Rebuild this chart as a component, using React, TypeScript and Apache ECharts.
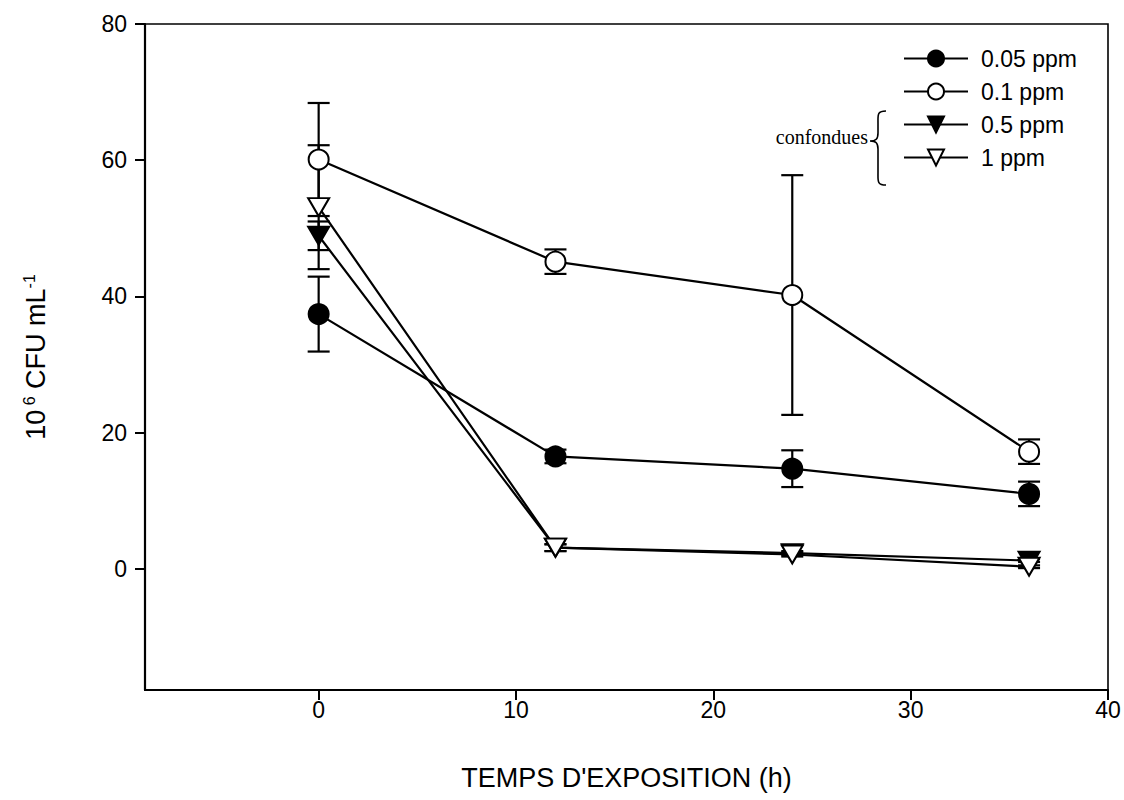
import React, { useEffect, useRef } from "react";
import * as echarts from "echarts";

const times = [0, 12, 24, 36];
const xTicks = [0, 10, 20, 30, 40];
const yTicks = [0, 20, 40, 60, 80];

const seriesNames = ["0.05 ppm", "0.1 ppm", "0.5 ppm", "1 ppm"];
const ppm005 = [37.4, 16.5, 14.7, 11.0];
const ppm005Err = [5.5, 1.0, 2.7, 1.8];
const ppm01 = [60.1, 45.1, 40.2, 17.2];
const ppm01Err = [8.3, 1.8, 17.6, 1.8];
const ppm05 = [48.9, 3.1, 2.3, 1.2];
const ppm05Err = [2.1, 0.5, 0.3, 0.2];
const ppm1 = [53.1, 3.1, 2.1, 0.3];
const ppm1Err = [9.1, 0.5, 0.3, 0.2];

const TRI_DOWN = "path://M0,0 L20,0 L10,17 Z";

const FONT = "Liberation Sans, Arial, sans-serif";

export default function App() {
  const ref = useRef<HTMLDivElement>(null);

  useEffect(() => {
    if (!ref.current) return;
    echarts.graphic.registerShape(
      "brace",
      echarts.graphic.extendPath(
        "M16,0 C7,0 8,4 8,12 L8,22 C8,28 6,30 0,30 C6,30 8,32 8,38 L8,62 C8,70 7,74 16,74",
        {}
      )
    );
    const chart = echarts.init(ref.current, null, { renderer: "svg" });

    const values = [ppm005, ppm01, ppm05, ppm1];
    const errs = [ppm005Err, ppm01Err, ppm05Err, ppm1Err];
    const symbols = ["circle", "circle", TRI_DOWN, TRI_DOWN];
    const fills = ["#000", "#fff", "#000", "#fff"];
    const sizes: any[] = [20, 20, [21, 18], [21, 18]];

    const errData: any[] = [];
    values.forEach((vals, s) => {
      vals.forEach((v, i) => {
        errData.push([times[i], v - errs[s][i], v + errs[s][i]]);
      });
    });

    const errSeries = {
      type: "custom",
      z: 1,
      silent: true,
      renderItem: (params: any, api: any) => {
        const x = api.value(0);
        const lo = api.coord([x, api.value(1)]);
        const hi = api.coord([x, api.value(2)]);
        const hw = 11;
        const st = { stroke: "#000", lineWidth: 2.2 };
        return {
          type: "group",
          children: [
            { type: "line", shape: { x1: lo[0], y1: lo[1], x2: hi[0], y2: hi[1] }, style: st },
            { type: "line", shape: { x1: lo[0] - hw, y1: lo[1], x2: lo[0] + hw, y2: lo[1] }, style: st },
            { type: "line", shape: { x1: hi[0] - hw, y1: hi[1], x2: hi[0] + hw, y2: hi[1] }, style: st },
          ],
        };
      },
      encode: { x: 0, y: [1, 2] },
      data: errData,
    };

    const lineSeries = values.map((vals, s) => ({
      name: seriesNames[s],
      type: "line",
      z: 3,
      data: vals.map((v, i) => [times[i], v]),
      symbol: symbols[s],
      symbolSize: sizes[s],
      showSymbol: true,
      lineStyle: { color: "#000", width: 2.2 },
      itemStyle: { color: fills[s], borderColor: "#000", borderWidth: 2 },
      emphasis: { disabled: true },
    }));

    chart.setOption({
      animation: false,
      backgroundColor: "#fff",
      grid: {
        left: 145,
        right: 16,
        top: 24,
        bottom: 110,
        show: true,
        borderColor: "#000",
        borderWidth: 1.6,
        backgroundColor: "transparent",
      },
      legend: {
        orient: "vertical",
        left: 898,
        top: 42,
        itemWidth: 64,
        itemHeight: 20,
        itemGap: 10,
        data: seriesNames,
        textStyle: { fontFamily: FONT, fontSize: 23, lineHeight: 20, color: "#000", padding: [0, 0, 0, 8] },
        selectedMode: false,
      },
      xAxis: {
        type: "value",
        min: -8.8,
        max: 40,
        name: "TEMPS D'EXPOSITION (h)",
        nameLocation: "middle",
        nameGap: 74,
        nameTextStyle: { fontFamily: FONT, fontSize: 27, color: "#000" },
        axisLine: { show: true, onZero: false, lineStyle: { color: "#000", width: 2.2 } },
        axisTick: { show: true, length: 10, lineStyle: { color: "#000", width: 2 }, customValues: xTicks },
        axisLabel: {
          customValues: xTicks,
          fontFamily: FONT,
          fontSize: 23,
          color: "#000",
          margin: 8,
        },
        splitLine: { show: false },
      },
      yAxis: {
        type: "value",
        min: -17.8,
        max: 80,
        name: "{a|10}{s| 6}{a| CFU mL}{s|-1}",
        nameLocation: "middle",
        nameGap: 94,
        nameRotate: 90,
        nameTextStyle: {
          fontFamily: FONT,
          color: "#000",
          rich: {
            a: { fontFamily: FONT, fontSize: 27, color: "#000", lineHeight: 30 },
            s: { fontFamily: FONT, fontSize: 16, color: "#000", verticalAlign: "top", lineHeight: 30, padding: [0, 0, 12, 0] },
          },
        },
        axisLine: { show: true, onZero: false, lineStyle: { color: "#000", width: 2.2 } },
        axisTick: { show: true, length: 10, lineStyle: { color: "#000", width: 2 }, customValues: yTicks },
        axisLabel: {
          customValues: yTicks,
          fontFamily: FONT,
          fontSize: 23,
          color: "#000",
          margin: 18,
        },
        splitLine: { show: false },
      },
      graphic: [
        {
          type: "brace",
          x: 870,
          y: 111,
          style: { fill: "none", stroke: "#000", lineWidth: 1.6 },
          silent: true,
        },
        {
          type: "text",
          x: 868,
          y: 137,
          style: {
            text: "confondues",
            fontFamily: "Liberation Serif, Times New Roman, serif",
            fontSize: 20,
            fill: "#000",
            align: "right",
            verticalAlign: "middle",
          },
          silent: true,
        },
      ],
      series: [errSeries, ...lineSeries],
    });

    return () => chart.dispose();
  }, []);

  return (
    <div
      ref={ref}
      style={{ position: "absolute", left: 0, top: 0, width: 1124, height: 800, background: "#fff" }}
    />
  );
}
